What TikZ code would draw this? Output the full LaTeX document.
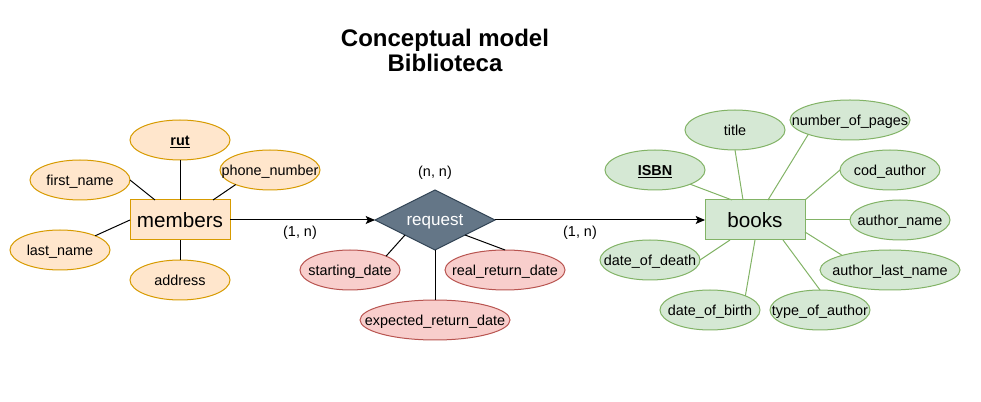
\documentclass[tikz,border=0pt]{standalone}
\usepackage{fontspec}
\setmainfont{Liberation Sans}
\usetikzlibrary{shapes.geometric,arrows.meta,calc}
\definecolor{oFill}{HTML}{FFE6CC}
\definecolor{oLine}{HTML}{D79B00}
\definecolor{rFill}{HTML}{F8CECC}
\definecolor{rLine}{HTML}{B85450}
\definecolor{gFill}{HTML}{D5E8D4}
\definecolor{gLine}{HTML}{82B366}
\definecolor{dFill}{HTML}{647687}
\definecolor{dLine}{HTML}{314354}
\newcommand{\zb}[1]{\makebox[0pt]{#1}}
\begin{document}
\begin{tikzpicture}[x=0.75pt,y=-0.75pt,
  every node/.style={inner sep=0pt, outer sep=0pt},
  attr/.style={ellipse, draw, line width=0.75pt, minimum width=75pt, minimum height=30pt, text height=9.3pt, text depth=0.7pt, font=\fontsize{10.8}{13}\selectfont},
  attrO/.style={attr, fill=oFill, draw=oLine},
  attrR/.style={attr, fill=rFill, draw=rLine},
  attrG/.style={attr, fill=gFill, draw=gLine},
  entity/.style={rectangle, draw, line width=0.75pt, minimum width=75pt, minimum height=30pt, text height=12pt, text depth=0pt, font=\fontsize{15.5}{18}\selectfont},
  lnk/.style={line width=0.75pt, draw=black},
  glnk/.style={line width=0.75pt, draw=gLine},
  arr/.style={line width=0.75pt, -{Stealth[length=7pt, width=6pt, inset=1.5pt]}},
  card/.style={font=\fontsize{10.8}{13}\selectfont},
  ttl/.style={anchor=base, font=\bfseries\fontsize{18}{20}\selectfont}
]
\useasboundingbox (0,0) rectangle (981,402);

\node[ttl] (title1) at (445,46.5) {Conceptual model};
\node[ttl] (title2) at (445,71.5) {Biblioteca};

% members
\node[entity, fill=oFill, draw=oLine] (members) at (180,220) {members};
\node[attrO] (rut) at (180,140) {\zb{\underline{\textbf{rut}}}};
\node[attrO] (phone) at (270,170) {\zb{phone\_number}};
\node[attrO] (first) at (80,180) {\zb{first\_name}};
\node[attrO] (last) at (60,250) {\zb{last\_name}};
\node[attrO] (address) at (180,280) {\zb{address}};

\draw[lnk] (rut.south) -- (members.north);
\draw[lnk] (phone.203) -- ($(members.north east)+(-17,0)$);
\draw[lnk] (first.east) -- ($(members.north west)+(25,0)$);
\draw[lnk] (last.22) -- (members.west);
\draw[lnk] (address.north) -- (members.south);

% request
\node[diamond, fill=dFill, draw=dLine, line width=0.75pt, minimum width=90pt, minimum height=45pt, aspect=2, text=white, text height=10pt, text depth=1pt, font=\fontsize{12.8}{15}\selectfont] (request) at (435,220) {request};
\node[attrR] (start) at (350,270) {\zb{starting\_date}};
\node[attrR, minimum width=90pt] (real) at (505,270) {\zb{real\_return\_date}};
\node[attrR, minimum width=112.5pt] (expected) at (435,320) {\zb{expected\_return\_date}};

\draw[lnk] (start.21) -- ($(request.west)!0.5!(request.south)$);
\draw[lnk] (real.north) -- ($(request.south)!0.5!(request.east)$);
\draw[lnk] (expected.north) -- (request.south);

\node[card] (nn) at (435,173) {(n, n)};
\node[card] (c1) at (300,233) {(1, n)};
\node[card] (c2) at (580,233) {(1, n)};

\draw[arr] (members.east) -- (request.west);

% books
\node[entity, fill=gFill, draw=gLine] (books) at (755,220) {books};
\node[attrG] (isbn) at (655,170) {\zb{\underline{\textbf{ISBN}}}};
\node[attrG] (ttitle) at (735,130) {\zb{title}};
\node[attrG, minimum width=90pt] (pages) at (850,120) {\zb{number\_of\_pages}};
\node[attrG] (cod) at (890,170) {\zb{cod\_author}};
\node[attrG] (aname) at (900,220) {\zb{author\_name}};
\node[attrG, minimum width=105pt] (alast) at (890,270) {\zb{author\_last\_name}};
\node[attrG] (type) at (820,310) {\zb{type\_of\_author}};
\node[attrG] (birth) at (710,310) {\zb{date\_of\_birth}};
\node[attrG] (death) at (650,260) {\zb{date\_of\_death}};

\draw[arr] (request.east) -- (books.west);

\draw[glnk] (isbn.338) -- ($(books.north west)+(27,0)$);
\draw[glnk] (ttitle.south) -- ($(books.north west)+(38,0)$);
\draw[glnk] (pages.199) -- ($(books.north)+(13,0)$);
\draw[glnk] (cod.west) -- (books.north east);
\draw[glnk] (aname.west) -- (books.east);
\draw[glnk] (alast.163) -- ($(books.east)+(0,12)$);
\draw[glnk] (type.north) -- ($(books.south)+(28,0)$);
\draw[glnk] (birth.north east) -- (books.south);
\draw[glnk] (death.east) -- ($(books.south west)+(25,0)$);
\end{tikzpicture}
\end{document}
